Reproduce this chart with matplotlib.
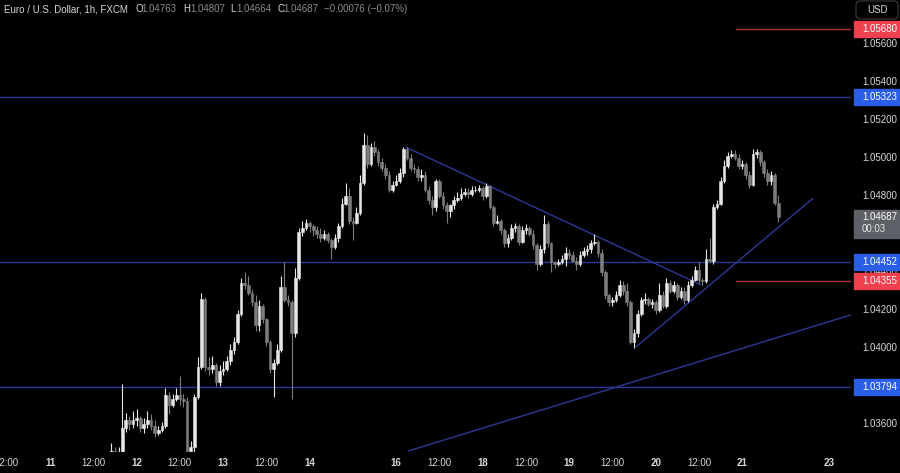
import numpy as np
import matplotlib
matplotlib.use("Agg")
import matplotlib.pyplot as plt
from matplotlib.patches import Rectangle, FancyBboxPatch

plt.rcParams["font.family"] = ["Liberation Sans", "DejaVu Sans"]

# hourly candles, hour index counted from the "11" day label
first_hour = 17
first_open = 1.0340
closes = [
  1.0346, 1.0343, 1.0344, 1.0358, 1.0362, 1.0360, 1.0362, 1.0363, 1.0358, 1.0360,
  1.0362, 1.0359, 1.0355, 1.0357, 1.0359, 1.0375, 1.0370, 1.0373, 1.0375, 1.0373,
  1.0372, 1.0346, 1.0348, 1.0374, 1.0390, 1.0426, 1.0390, 1.0389, 1.0391, 1.0382,
  1.0388, 1.0389, 1.0393, 1.0399, 1.0403, 1.0418, 1.0434, 1.0433, 1.0429, 1.0424,
  1.0412, 1.0422, 1.0415, 1.0403, 1.0389, 1.0392, 1.0399, 1.0432, 1.0425, 1.0424,
  1.0408, 1.0437, 1.0461, 1.0463, 1.0466, 1.0464, 1.0462, 1.0460, 1.0458, 1.0460,
  1.0457, 1.0453, 1.0458, 1.0464, 1.0476, 1.0480, 1.0467, 1.0466, 1.0471, 1.0487,
  1.0507, 1.0497, 1.0506, 1.0503, 1.0498, 1.0495, 1.0491, 1.0483, 1.0486, 1.0488,
  1.0492, 1.0505, 1.0500, 1.0495, 1.0494, 1.0490, 1.0491, 1.0483, 1.0478, 1.0474,
  1.0488, 1.0480, 1.0475, 1.0472, 1.0475, 1.0478, 1.0479, 1.0481, 1.0482, 1.0481,
  1.0483, 1.0483, 1.0484, 1.0480, 1.0485, 1.0474, 1.0466, 1.0467, 1.0462, 1.0455,
  1.0458, 1.0463, 1.0464, 1.0456, 1.0462, 1.0463, 1.0460, 1.0454, 1.0444, 1.0452,
  1.0465, 1.0455, 1.0445, 1.0444, 1.0445, 1.0447, 1.0450, 1.0449, 1.0446, 1.0444,
  1.0449, 1.0451, 1.0452, 1.0455, 1.0456, 1.0450, 1.0440, 1.0428, 1.0424, 1.0425,
  1.0428, 1.0433, 1.0430, 1.0424, 1.0403, 1.0408, 1.0418, 1.0425, 1.0426, 1.0423,
  1.0424, 1.0420, 1.0428, 1.0422, 1.0434, 1.0430, 1.0433, 1.0427, 1.0430, 1.0425,
  1.0433, 1.0436, 1.0441, 1.0436, 1.0435, 1.0447, 1.0446, 1.0474, 1.0476, 1.0488,
  1.0496, 1.0501, 1.0502, 1.0500, 1.0496, 1.0497, 1.0491, 1.0486, 1.0502, 1.0503,
  1.0498, 1.0492, 1.0488, 1.0491, 1.04763, 1.04687]
highs = [
  1.0350, 1.0348, 1.0348, 1.0381, 1.0366, 1.0364, 1.0367, 1.0368, 1.0364, 1.0363,
  1.0367, 1.0365, 1.0362, 1.0359, 1.0361, 1.0379, 1.0377, 1.0376, 1.0379, 1.0385,
  1.0376, 1.0374, 1.0351, 1.0376, 1.0395, 1.0429, 1.0427, 1.0395, 1.0396, 1.0392,
  1.0391, 1.0393, 1.0396, 1.0402, 1.0406, 1.0420, 1.0437, 1.0440, 1.0438, 1.0431,
  1.0428, 1.0425, 1.0423, 1.0416, 1.0404, 1.0394, 1.0402, 1.0438, 1.0445, 1.0428,
  1.0425, 1.0442, 1.0463, 1.0467, 1.0468, 1.0467, 1.0465, 1.0464, 1.0463, 1.0462,
  1.0461, 1.0458, 1.0460, 1.0466, 1.0479, 1.0487, 1.0484, 1.0469, 1.0474, 1.0491,
  1.0513, 1.0512, 1.0508, 1.0509, 1.0505, 1.0500, 1.0497, 1.0493, 1.0488, 1.0491,
  1.0495, 1.0506, 1.0506, 1.0502, 1.0497, 1.0496, 1.0494, 1.0493, 1.0485, 1.0480,
  1.0489, 1.0489, 1.0482, 1.0477, 1.0476, 1.0480, 1.0482, 1.0484, 1.0484, 1.0484,
  1.0485, 1.0485, 1.0486, 1.0485, 1.0487, 1.0486, 1.0475, 1.0470, 1.0468, 1.0463,
  1.0460, 1.0465, 1.0466, 1.0465, 1.0464, 1.0465, 1.0464, 1.0462, 1.0455, 1.0454,
  1.0470, 1.0467, 1.0456, 1.0446, 1.0447, 1.0449, 1.0453, 1.0452, 1.0451, 1.0448,
  1.0451, 1.0453, 1.0454, 1.0457, 1.0460, 1.0457, 1.0452, 1.0441, 1.0429, 1.0427,
  1.0430, 1.0436, 1.0435, 1.0434, 1.0425, 1.0410, 1.0420, 1.0427, 1.0429, 1.0427,
  1.0426, 1.0425, 1.0434, 1.0430, 1.0437, 1.0436, 1.0435, 1.0434, 1.0432, 1.0432,
  1.0435, 1.0438, 1.0443, 1.0445, 1.0437, 1.0452, 1.0458, 1.0476, 1.0478, 1.0490,
  1.0499, 1.0503, 1.0504, 1.0504, 1.0502, 1.0499, 1.0498, 1.0493, 1.0505, 1.0505,
  1.0504, 1.0499, 1.0494, 1.0493, 1.0492, 1.04807]
lows = [
  1.0336, 1.0338, 1.0338, 1.0341, 1.0356, 1.0357, 1.0358, 1.0359, 1.0356, 1.0355,
  1.0358, 1.0357, 1.0353, 1.0354, 1.0356, 1.0358, 1.0365, 1.0369, 1.0372, 1.0370,
  1.0369, 1.0344, 1.0344, 1.0345, 1.0373, 1.0389, 1.0388, 1.0386, 1.0387, 1.0380,
  1.0380, 1.0386, 1.0388, 1.0391, 1.0397, 1.0402, 1.0417, 1.0431, 1.0428, 1.0422,
  1.0409, 1.0409, 1.0413, 1.0401, 1.0387, 1.0374, 1.0391, 1.0398, 1.0424, 1.0422,
  1.0373, 1.0406, 1.0436, 1.0459, 1.0462, 1.0461, 1.0459, 1.0458, 1.0456, 1.0457,
  1.0455, 1.0447, 1.0452, 1.0456, 1.0463, 1.0475, 1.0465, 1.0457, 1.0465, 1.0470,
  1.0486, 1.0495, 1.0496, 1.0501, 1.0496, 1.0493, 1.0489, 1.0482, 1.0482, 1.0485,
  1.0487, 1.0490, 1.0499, 1.0493, 1.0492, 1.0488, 1.0488, 1.0482, 1.0476, 1.0470,
  1.0472, 1.0479, 1.0473, 1.0466, 1.0469, 1.0473, 1.0477, 1.0478, 1.0480, 1.0479,
  1.0480, 1.0482, 1.0482, 1.0478, 1.0479, 1.0473, 1.0464, 1.0465, 1.0460, 1.0453,
  1.0453, 1.0457, 1.0461, 1.0454, 1.0455, 1.0460, 1.0459, 1.0452, 1.0441, 1.0443,
  1.0450, 1.0453, 1.0440, 1.0442, 1.0443, 1.0444, 1.0443, 1.0447, 1.0445, 1.0441,
  1.0443, 1.0448, 1.0449, 1.0450, 1.0454, 1.0448, 1.0438, 1.0426, 1.0422, 1.0422,
  1.0424, 1.0427, 1.0428, 1.0422, 1.0402, 1.0400, 1.0406, 1.0417, 1.0423, 1.0422,
  1.0421, 1.0418, 1.0419, 1.0421, 1.0421, 1.0429, 1.0429, 1.0425, 1.0426, 1.0423,
  1.0424, 1.0432, 1.0435, 1.0434, 1.0433, 1.0434, 1.0445, 1.0444, 1.0473, 1.0475,
  1.0487, 1.0495, 1.0500, 1.0499, 1.0494, 1.0494, 1.0489, 1.0484, 1.0485, 1.0500,
  1.0496, 1.0490, 1.0486, 1.0486, 1.0475, 1.04664]

tick_hours = [-12, 0, 12, 24, 36, 48, 60, 72, 96, 108, 120, 132, 144, 156, 168, 180, 192, 216]
tick_labels = ["12:00", "11", "12:00", "12", "12:00", "13", "12:00", "14", "16", "12:00",
               "18", "12:00", "19", "12:00", "20", "12:00", "21", "23"]
# 1.038 and 1.046 sit under the level / last-price boxes, so they are not shown
price_ticks = [1.036, 1.040, 1.042, 1.044, 1.048, 1.050, 1.052, 1.054, 1.056]

blue_levels = [1.05323, 1.04452, 1.03794]
red_levels = [1.05680, 1.04355]
red_from = 190.3

trend_down = ([98.6, 180.6], [1.05058, 1.04332])
trend_up = ([162.5, 211.7], [1.04005, 1.04789])
trend_long = ([99.4, 223.0], [1.03458, 1.04179])

W, H = 900, 473
ymin, ymax = 1.034526, 1.058316
px = (ymax - ymin) / 452.0   # price per pixel

UP, DOWN = "#e6e6e6", "#7d7d7d"
BLUE_LINE, RED_LINE = "#2c3a96", "#a8343a"
BLUE_BOX, RED_BOX = "#2a5ee8", "#f0404e"
TXT = "#d8d8d8"

fig = plt.figure(figsize=(W / 100, H / 100), dpi=100, facecolor="black")
ax = fig.add_axes([0, 21 / H, 851 / W, 452 / H])
ax.set_facecolor("black")
ax.set_xlim(-13.9, 222.2)
ax.set_ylim(ymin, ymax)
for s in ax.spines.values():
  s.set_visible(False)

# candles
c = np.array(closes)
o = np.array([first_open] + closes[:-1])
hi, lo = np.array(highs), np.array(lows)
x = first_hour + np.arange(len(c))
cols = np.where(c >= o, UP, DOWN)
ax.vlines(x, lo, hi, colors=cols, linewidth=0.8, zorder=3)
ax.bar(x, np.abs(c - o), bottom=np.minimum(o, c), width=0.74,
       color=cols, edgecolor=cols, linewidth=0.4, zorder=4)

# drawings
for lvl in blue_levels:
  ax.axhline(lvl, color=BLUE_LINE, linewidth=1.0, zorder=2)
for lvl in red_levels:
  ax.plot([red_from, 222.2], [lvl, lvl], color=RED_LINE, linewidth=1.0, zorder=2)
for xs, ys in (trend_down, trend_up, trend_long):
  ax.plot(xs, ys, color=BLUE_LINE, linewidth=1.0, zorder=2, solid_capstyle="butt")

ax.set_yticks([])
ax.set_xticks(tick_hours)
ax.set_xticklabels(tick_labels)
ax.tick_params(axis="x", length=0, pad=4, labelsize=7, labelcolor=TXT)
for t in ax.get_xticklabels():
  if ":" not in t.get_text():
    t.set_fontweight("bold")

# price scale
pax = fig.add_axes([851 / W, 21 / H, 49 / W, 452 / H])
pax.set_facecolor("black")
pax.set_xlim(0, 49)
pax.set_ylim(ymin, ymax)
pax.axis("off")
for p in price_ticks:
  pax.text(11, p, "%.5f" % p, color=TXT, fontsize=7, va="center", ha="left", zorder=2)

boxes = [(lvl, BLUE_BOX) for lvl in blue_levels] + [(lvl, RED_BOX) for lvl in red_levels]
for lvl, col in boxes:
  pax.add_patch(Rectangle((3, lvl - 8 * px), 46, 16 * px, color=col, zorder=3, clip_on=False))
  pax.text(11, lvl, "%.5f" % lvl, color="white", fontsize=7, va="center", ha="left", zorder=4)

last = closes[-1]
pax.add_patch(Rectangle((3, last - 20.5 * px), 46, 28 * px, color="#5e6068", zorder=3, clip_on=False))
pax.text(11, last, "%.5f" % last, color="white", fontsize=7, va="center", ha="left", zorder=4)
pax.text(11, last - 11.5 * px, "00:03", color="#e6e6e6", fontsize=7, va="center", ha="left", zorder=4)

# currency button
fig.add_artist(FancyBboxPatch((8.56, (H - 19) / 100), 0.42, 0.18,
               boxstyle="round,pad=0,rounding_size=0.04", transform=fig.dpi_scale_trans,
               fc="black", ec="#3a3d46", lw=0.8))
fig.text(877 / W, 1 - 10 / H, "USD", color=TXT, fontsize=7, ha="center", va="center")

# legend line
head = [(4, "Euro / U.S. Dollar, 1h, FXCM", TXT), (135, "O", TXT), (141, "1.04763", "#8c8c8c"),
        (183, "H", TXT), (190, "1.04807", "#8c8c8c"), (230, "L", TXT), (236, "1.04664", "#8c8c8c"),
        (277, "C", TXT), (283, "1.04687", "#8c8c8c"), (324, "\u22120.00076 (\u22120.07%)", "#8c8c8c")]
for xp, s, col in head:
  fig.text(xp / W, 1 - 9 / H, s, color=col, fontsize=7, ha="left", va="center")

fig.savefig("out.png", dpi=100, facecolor="black")
